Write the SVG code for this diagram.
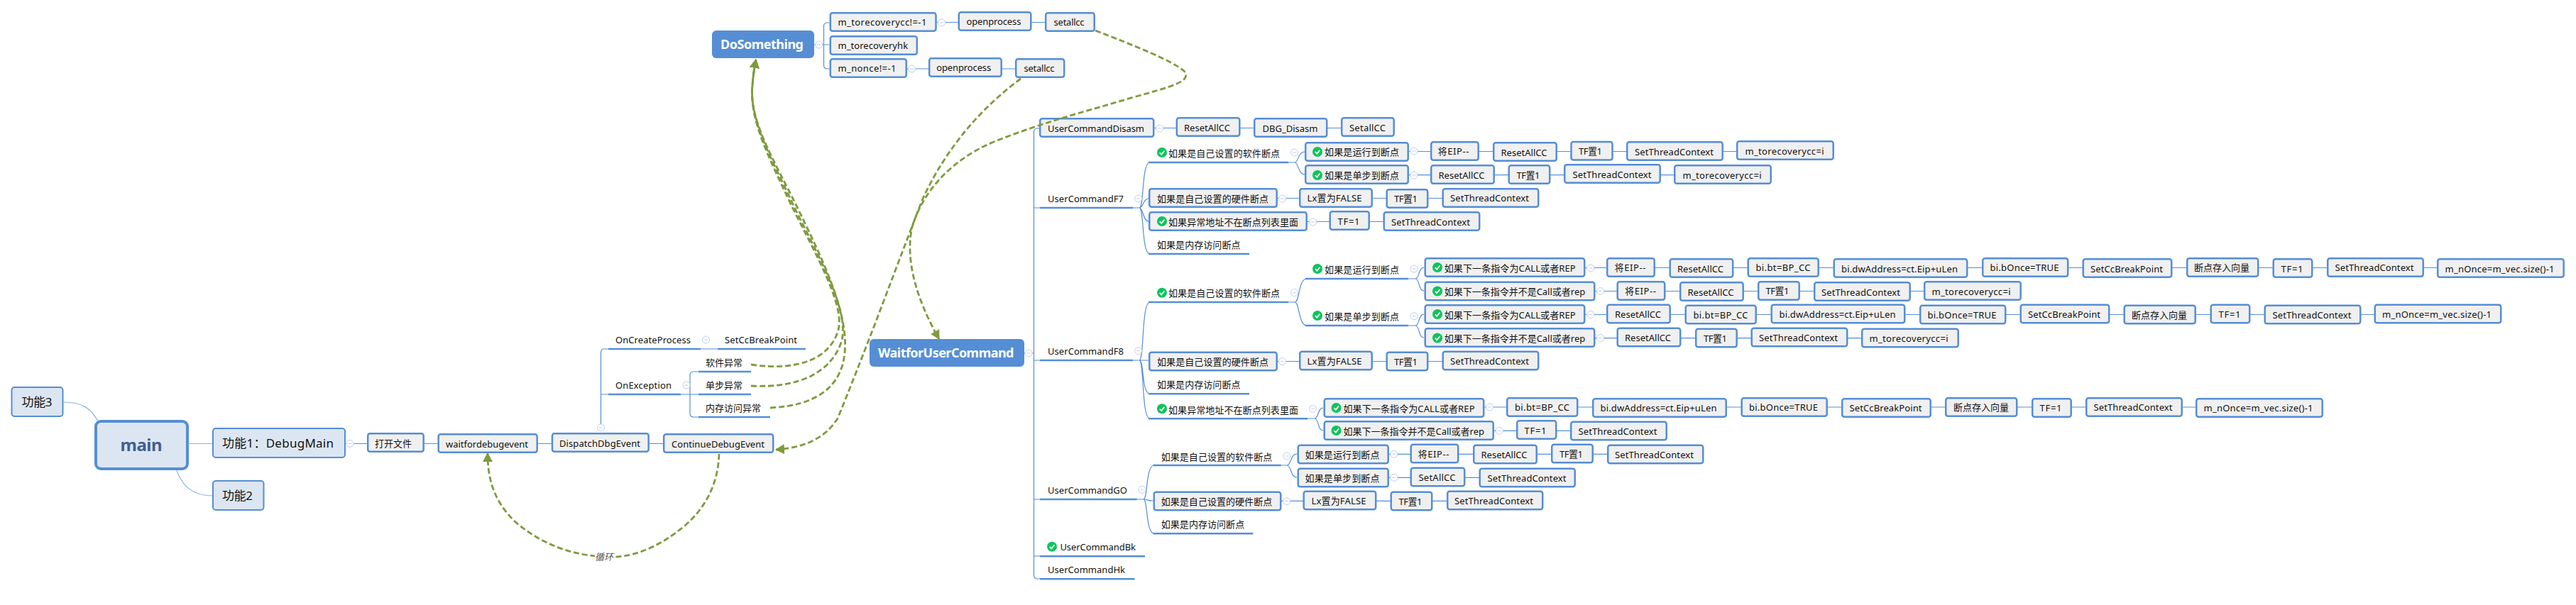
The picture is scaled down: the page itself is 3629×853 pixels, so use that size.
<svg xmlns="http://www.w3.org/2000/svg" width="3629" height="853" viewBox="0 0 3629 853">
<style>
text{font-family:"Noto Sans","Noto Sans CJK SC",sans-serif;font-size:13px;fill:#111}
.b{fill:#f0f0f0;stroke:#558ed5;stroke-width:2.5}
.f{fill:#dce6f2;stroke:#558ed5;stroke-width:2}
.h{fill:#558ed5}
.u{stroke:#558ed5;stroke-width:2.6;fill:none}
.l{stroke:#558ed5;stroke-width:1.2;fill:none}
.m{stroke:#8db0e3;stroke-width:1.2;fill:none}
.r{stroke:#7f9a3f;stroke-width:2.8;fill:none;stroke-dasharray:8 4;marker-end:url(#ah)}
.c{fill:#fff;stroke:#c0cdf0;stroke-width:1}
.w{fill:#fff;font-weight:700;font-size:18px}
</style>
<defs>
<marker id="ah" markerUnits="userSpaceOnUse" markerWidth="14" markerHeight="14" refX="12" refY="7" orient="auto"><path d="M0 0L13 7L0 14Z" fill="#7f9a3f"/></marker>
<g id="ck"><circle r="7" fill="#0bc55b"/><path d="M-3.2 0.2L-0.8 2.8L3.4-2.4" fill="none" stroke="#fff" stroke-width="1.8"/></g>
<g id="cp"><circle class="c" r="5"/><path d="M-2.5 0H2.5" stroke="#c0cdf0" fill="none"/></g>
</defs>
<g id="connectors">
<path class="m" d="M89.5 567C115 567 128 575 138 594"/>
<path class="m" d="M248.5 662C256 685 272 699 299 699"/>
<path class="m" d="M265 625.5H299" stroke-width="2"/>
<path class="l" d="M487 625.5H934"/>
<path class="l" d="M846.5 598V497Q846.5 492 851 492H857M846.5 556H857"/>
<path class="l" d="M987 492H1011M959 556H984M972 556V529Q972 524 977 524H984M972 556V583Q972 588 977 588H984"/>
<path class="l" d="M1147 63H1168.5M1160.5 63V37Q1160.5 32 1165.5 32H1168.5M1160.5 63V92Q1160.5 97 1165.5 97H1168.5"/>
<path class="l" d="M1319.5 31.5H1543M1278 97H1500"/>
<path class="l" d="M1443 498H1456.5M1465 181H1461.5Q1456.5 181 1456.5 186V811Q1456.5 816 1461.5 816H1465M1456.5 293H1465M1456.5 508H1465M1456.5 704H1465M1456.5 784H1465"/>
<path class="l" d="M1626 180.5H1965"/>
<path class="l" d="M1596 293H1605C1612 293 1608 229 1620 229M1605 293C1611 293 1610 280 1618 280M1605 293C1611 293 1610 312 1618 312M1605 293C1612 293 1608 358 1620 358"/>
<path class="l" d="M1815 229H1824C1829 229 1829 214 1838 214M1824 229C1829 229 1829 246 1838 246"/>
<path class="l" d="M1985 213.5H2584M1985 246.7H2496M1800 279.5H2168M1842 312.5H2084"/>
<path class="l" d="M1596 508H1605C1612 508 1608 426 1620 426M1605 508H1618M1605 508C1612 508 1608 555 1620 555M1605 508C1612 508 1608 590 1620 590"/>
<path class="l" d="M1815 426H1824C1831 426 1829 393 1841 393M1824 426C1831 426 1829 459 1841 459"/>
<path class="l" d="M1984 393H1994C2000 393 1998 377 2006 377M1994 393C2000 393 1998 410 2006 410M1984 459H1994C2000 459 1998 443 2006 443M1994 459C2000 459 1998 476 2006 476"/>
<path class="l" d="M2233 377.5H3612M2247 410.5H2846M2233 443.5H3524M2247 476.7H2758M1800 509.5H2168"/>
<path class="l" d="M1842 590H1852C1858 590 1856 575 1864 575M1852 590C1858 590 1856 607 1864 607"/>
<path class="l" d="M2091 574H3273M2105 607.3H2347"/>
<path class="l" d="M1601 704H1611C1617 704 1614 656 1626 656M1611 704C1616 704 1616 706 1624 706M1611 704C1617 704 1614 752 1626 752"/>
<path class="l" d="M1804 656H1813C1819 656 1818 640 1827 640M1813 656C1819 656 1818 673 1827 673"/>
<path class="l" d="M1957 640.3H2399M1957 673.3H2219M1805 706.3H2173"/>
</g>
<g id="nodes">
<g id="n-f3"><rect class="f" x="16.5" y="546" width="72" height="41" rx="4"/><text x="30.5" y="573" textLength="43" style="font-size:17px">功能3</text></g>
<g id="n-main"><rect x="135" y="594" width="129" height="67" rx="7" fill="#dce6f2" stroke="#558ed5" stroke-width="4"/><text x="169.5" y="636" textLength="59" style="font-size:24px;font-weight:700;fill:#3f5f8f">main</text></g>
<g id="n-f1"><rect class="f" x="300" y="604" width="186" height="41" rx="4"/><text x="313" y="631" textLength="157" style="font-size:17px">功能1：DebugMain</text></g>
<g id="n-f2"><rect class="f" x="300" y="678" width="71.5" height="41" rx="4"/><text x="313" y="705" textLength="43" style="font-size:17px">功能2</text></g>
<g id="n-open"><rect class="b" x="518.2" y="611.2" width="78.5" height="25.5" rx="3"/><text x="528" y="629.5" textLength="52">打开文件</text></g>
<g id="n-wait"><rect class="b" x="617.7" y="612.2" width="139" height="25.5" rx="3"/><text x="628" y="630.5" textLength="116">waitfordebugevent</text></g>
<g id="n-disp"><rect class="b" x="778" y="611.2" width="135.7" height="25.5" rx="3"/><text x="788" y="629.5" textLength="114">DispatchDbgEvent</text></g>
<g id="n-cont"><rect class="b" x="935.2" y="612.2" width="154" height="25.5" rx="3"/><text x="946" y="630.5" textLength="131">ContinueDebugEvent</text></g>
<g id="n-ocp"><path class="u" d="M857 492H987"/><text x="867" y="484" textLength="106">OnCreateProcess</text></g>
<g id="n-scb"><path class="u" d="M1011 492H1135"/><text x="1021" y="484" textLength="102">SetCcBreakPoint</text></g>
<g id="n-oe"><path class="u" d="M857 556H959"/><text x="867" y="548" textLength="79">OnException</text></g>
<g id="n-sw"><path class="u" d="M984 524H1058"/><text x="994" y="516" textLength="52">软件异常</text></g>
<g id="n-ss"><path class="u" d="M984 556H1058"/><text x="994" y="548" textLength="52">单步异常</text></g>
<g id="n-mm"><path class="u" d="M984 588H1085"/><text x="994" y="580" textLength="78">内存访问异常</text></g>

<g id="n-do"><rect class="h" x="1003" y="43" width="144" height="39" rx="6"/><text class="w" x="1015" y="69" textLength="117">DoSomething</text></g>
<g id="n-a1"><rect class="b" x="1169.8" y="18.2" width="148.7" height="25.5" rx="3"/><text x="1180.4" y="35.5" textLength="125">m_torecoverycc!=-1</text></g>
<g id="n-a2"><rect class="b" x="1169.8" y="51.2" width="122" height="25.5" rx="3"/><text x="1180.4" y="68.5" textLength="98.7">m_torecoveryhk</text></g>
<g id="n-a3"><rect class="b" x="1169.8" y="83.2" width="107" height="25.5" rx="3"/><text x="1180.4" y="100.5" textLength="82">m_nonce!=-1</text></g>
<g id="n-a4"><rect class="b" x="1350.8" y="17.2" width="101.5" height="25.5" rx="3"/><text x="1361.4" y="34.5" textLength="77">openprocess</text></g>
<g id="n-a5"><rect class="b" x="1473.2" y="18.2" width="68.5" height="25.5" rx="3"/><text x="1484.6" y="35.5" textLength="43">setallcc</text></g>
<g id="n-a6"><rect class="b" x="1309.2" y="82.2" width="101.5" height="25.5" rx="3"/><text x="1319.2" y="99.5" textLength="77">openprocess</text></g>
<g id="n-a7"><rect class="b" x="1431.2" y="83.2" width="68" height="25.5" rx="3"/><text x="1442.5" y="100.5" textLength="43">setallcc</text></g>

<g id="n-wuc"><rect class="h" x="1225" y="478" width="218" height="39" rx="6"/><text class="w" x="1237" y="504" textLength="191.5">WaitforUserCommand</text></g>

<g id="n-dis"><rect class="b" x="1465.2" y="167.2" width="160" height="25.5" rx="3"/><text x="1476" y="185.5" textLength="136">UserCommandDisasm</text></g>
<g id="n-d1"><rect class="b" x="1657.8" y="166.2" width="88.5" height="25.5" rx="3"/><text x="1668" y="184.5" textLength="65">ResetAllCC</text></g>
<g id="n-d2"><rect class="b" x="1767.2" y="167.2" width="102" height="25.5" rx="3"/><text x="1778.5" y="185.5" textLength="78">DBG_Disasm</text></g>
<g id="n-d3"><rect class="b" x="1890.2" y="166.2" width="73.5" height="25.5" rx="3"/><text x="1901" y="184.5" textLength="51">SetallCC</text></g>

<g id="n-f7"><path class="u" d="M1465 293H1596"/><text x="1476" y="285" textLength="107">UserCommandF7</text></g>
<g id="n-f7a"><path class="u" d="M1618 229H1815"/><use href="#ck" x="1637" y="215"/><text x="1646" y="221" textLength="157">如果是自己设置的软件断点</text></g>
<g id="n-f7a1"><rect class="b" x="1839.2" y="201.2" width="144.5" height="25.5" rx="3"/><use href="#ck" x="1856" y="214"/><text x="1866" y="219" textLength="105">如果是运行到断点</text></g>
<g id="n-f7a1a"><rect class="b" x="2016.2" y="200.2" width="66.5" height="25.5" rx="3"/><text x="2025.5" y="218" textLength="44">将EIP--</text></g>
<g id="n-f7a1b"><rect class="b" x="2104.2" y="201.2" width="88.5" height="25.5" rx="3"/><text x="2114.5" y="219.5" textLength="65">ResetAllCC</text></g>
<g id="n-f7a1c"><rect class="b" x="2213.5" y="200" width="58" height="25.5" rx="3"/><text x="2224" y="218" textLength="33">TF置1</text></g>
<g id="n-f7a1d"><rect class="b" x="2292.2" y="200.2" width="134.5" height="25.5" rx="3"/><text x="2303" y="218.5" textLength="111">SetThreadContext</text></g>
<g id="n-f7a1e"><rect class="b" x="2447.2" y="199.2" width="135.5" height="25.5" rx="3"/><text x="2458.5" y="218" textLength="111">m_torecoverycc=i</text></g>
<g id="n-f7a2"><rect class="b" x="1839.2" y="233.2" width="144.5" height="25.5" rx="3"/><use href="#ck" x="1856" y="247"/><text x="1866" y="251.5" textLength="105">如果是单步到断点</text></g>
<g id="n-f7a2a"><rect class="b" x="2016.2" y="233.2" width="88.5" height="25.5" rx="3"/><text x="2026.5" y="251.5" textLength="65">ResetAllCC</text></g>
<g id="n-f7a2b"><rect class="b" x="2125.7" y="233.2" width="57.5" height="25.5" rx="3"/><text x="2136.5" y="251.5" textLength="33">TF置1</text></g>
<g id="n-f7a2c"><rect class="b" x="2204.2" y="232.2" width="134.5" height="25.5" rx="3"/><text x="2215.5" y="250.5" textLength="111">SetThreadContext</text></g>
<g id="n-f7a2d"><rect class="b" x="2359.2" y="233.2" width="135.5" height="25.5" rx="3"/><text x="2370.5" y="251.5" textLength="111">m_torecoverycc=i</text></g>
<g id="n-f7b"><rect class="b" x="1619.2" y="266.2" width="179.5" height="25.5" rx="3"/><text x="1630" y="284.5" textLength="157">如果是自己设置的硬件断点</text></g>
<g id="n-f7b1"><rect class="b" x="1831.2" y="266.2" width="101.5" height="25.5" rx="3"/><text x="1841.5" y="284" textLength="77">Lx置为FALSE</text></g>
<g id="n-f7b2"><rect class="b" x="1953.7" y="267.2" width="57.5" height="25.5" rx="3"/><text x="1964" y="285" textLength="33">TF置1</text></g>
<g id="n-f7b3"><rect class="b" x="2032.7" y="266.2" width="134.5" height="25.5" rx="3"/><text x="2043" y="284" textLength="111">SetThreadContext</text></g>
<g id="n-f7c"><rect class="b" x="1619.2" y="299.2" width="221.5" height="25.5" rx="3"/><use href="#ck" x="1637" y="312"/><text x="1646" y="317.5" textLength="183">如果异常地址不在断点列表里面</text></g>
<g id="n-f7c1"><rect class="b" x="1873.7" y="298.2" width="55" height="25.5" rx="3"/><text x="1884.5" y="316.5" textLength="31">TF=1</text></g>
<g id="n-f7c2"><rect class="b" x="1949.7" y="299.2" width="134.5" height="25.5" rx="3"/><text x="1960" y="317.5" textLength="111">SetThreadContext</text></g>
<g id="n-f7d"><path class="u" d="M1618 358H1760"/><text x="1630" y="350" textLength="117.5">如果是内存访问断点</text></g>

<g id="n-f8"><path class="u" d="M1465 508H1596"/><text x="1476" y="499.5" textLength="107">UserCommandF8</text></g>
<g id="n-f8a"><path class="u" d="M1618 426H1815"/><use href="#ck" x="1637" y="412.7"/><text x="1646" y="418" textLength="157">如果是自己设置的软件断点</text></g>
<g id="n-f8a1"><path class="u" d="M1839 393H1984"/><use href="#ck" x="1856" y="379"/><text x="1866" y="385" textLength="105">如果是运行到断点</text></g>
<g id="n-f8a2"><path class="u" d="M1839 459H1984"/><use href="#ck" x="1856" y="445"/><text x="1866" y="451" textLength="105">如果是单步到断点</text></g>

<g id="n-r1"><rect class="b" x="2007.7" y="364.2" width="224.5" height="25.5" rx="3"/><use href="#ck" x="2025" y="377"/><text x="2034.7" y="382.5" textLength="185">如果下一条指令为CALL或者REP</text></g>
<g id="n-r1a"><rect class="b" x="2264.2" y="364.2" width="66.5" height="25.5" rx="3"/><text x="2274.5" y="382" textLength="44">将EIP--</text></g>
<g id="n-r1b"><rect class="b" x="2352.7" y="365.2" width="88.5" height="25.5" rx="3"/><text x="2363" y="383.5" textLength="65">ResetAllCC</text></g>
<g id="n-r1c"><rect class="b" x="2462.7" y="364.2" width="99" height="25.5" rx="3"/><text x="2473.5" y="382" textLength="77">bi.bt=BP_CC</text></g>
<g id="n-r1d"><rect class="b" x="2583.7" y="365.2" width="187.5" height="25.5" rx="3"/><text x="2594" y="383.5" textLength="164">bi.dwAddress=ct.Eip+uLen</text></g>
<g id="n-r1e"><rect class="b" x="2793.2" y="364.2" width="120" height="25.5" rx="3"/><text x="2803.5" y="382" textLength="97">bi.bOnce=TRUE</text></g>
<g id="n-r1f"><rect class="b" x="2934.7" y="365.2" width="124.5" height="25.5" rx="3"/><text x="2945" y="383.5" textLength="102">SetCcBreakPoint</text></g>
<g id="n-r1g"><rect class="b" x="3081.2" y="364.2" width="100" height="25.5" rx="3"/><text x="3091" y="382" textLength="78">断点存入向量</text></g>
<g id="n-r1h"><rect class="b" x="3202.7" y="365.2" width="54.5" height="25.5" rx="3"/><text x="3213.5" y="383.5" textLength="31">TF=1</text></g>
<g id="n-r1i"><rect class="b" x="3279.2" y="364.2" width="134.5" height="25.5" rx="3"/><text x="3289.5" y="382" textLength="111">SetThreadContext</text></g>
<g id="n-r1j"><rect class="b" x="3434.2" y="365.2" width="177.5" height="25.5" rx="3"/><text x="3444.5" y="383.5" textLength="154">m_nOnce=m_vec.size()-1</text></g>

<g id="n-r2"><rect class="b" x="2007.7" y="397.7" width="238.5" height="25.5" rx="3"/><use href="#ck" x="2025" y="410.5"/><text x="2034.7" y="416" textLength="198.5">如果下一条指令并不是Call或者rep</text></g>
<g id="n-r2a"><rect class="b" x="2278.7" y="397.2" width="66.5" height="25.5" rx="3"/><text x="2289" y="415" textLength="44">将EIP--</text></g>
<g id="n-r2b"><rect class="b" x="2367.2" y="398.2" width="88.5" height="25.5" rx="3"/><text x="2377.5" y="416.5" textLength="65">ResetAllCC</text></g>
<g id="n-r2c"><rect class="b" x="2477.2" y="397.2" width="57.5" height="25.5" rx="3"/><text x="2487.5" y="415" textLength="33">TF置1</text></g>
<g id="n-r2d"><rect class="b" x="2556.2" y="398.2" width="134.5" height="25.5" rx="3"/><text x="2566" y="416.5" textLength="111">SetThreadContext</text></g>
<g id="n-r2e"><rect class="b" x="2711.2" y="397.2" width="135.5" height="25.5" rx="3"/><text x="2721.5" y="415.5" textLength="111">m_torecoverycc=i</text></g>

<g id="n-r3"><rect class="b" x="2007.7" y="430.2" width="224.5" height="25.5" rx="3"/><use href="#ck" x="2025" y="443"/><text x="2034.7" y="448.5" textLength="185">如果下一条指令为CALL或者REP</text></g>
<g id="n-r3a"><rect class="b" x="2264.2" y="429.7" width="88.5" height="25.5" rx="3"/><text x="2275" y="448" textLength="65">ResetAllCC</text></g>
<g id="n-r3b"><rect class="b" x="2374.7" y="430.7" width="99" height="25.5" rx="3"/><text x="2385.5" y="449" textLength="77">bi.bt=BP_CC</text></g>
<g id="n-r3c"><rect class="b" x="2495.7" y="429.7" width="187.5" height="25.5" rx="3"/><text x="2506.5" y="448" textLength="164">bi.dwAddress=ct.Eip+uLen</text></g>
<g id="n-r3d"><rect class="b" x="2705.2" y="430.7" width="120" height="25.5" rx="3"/><text x="2715.5" y="449" textLength="97">bi.bOnce=TRUE</text></g>
<g id="n-r3e"><rect class="b" x="2846.7" y="429.7" width="124.5" height="25.5" rx="3"/><text x="2857" y="448" textLength="102">SetCcBreakPoint</text></g>
<g id="n-r3f"><rect class="b" x="2992.7" y="430.7" width="100" height="25.5" rx="3"/><text x="3003" y="449" textLength="78">断点存入向量</text></g>
<g id="n-r3g"><rect class="b" x="3114.7" y="429.7" width="54.5" height="25.5" rx="3"/><text x="3125.5" y="448" textLength="31">TF=1</text></g>
<g id="n-r3h"><rect class="b" x="3190.7" y="430.7" width="134.5" height="25.5" rx="3"/><text x="3201.5" y="449" textLength="111">SetThreadContext</text></g>
<g id="n-r3i"><rect class="b" x="3345.7" y="429.7" width="177.5" height="25.5" rx="3"/><text x="3356" y="448" textLength="154">m_nOnce=m_vec.size()-1</text></g>

<g id="n-r4"><rect class="b" x="2007.7" y="463.2" width="238.5" height="25.5" rx="3"/><use href="#ck" x="2025" y="476.5"/><text x="2034.7" y="482" textLength="198.5">如果下一条指令并不是Call或者rep</text></g>
<g id="n-r4a"><rect class="b" x="2278.7" y="462.7" width="88.5" height="25.5" rx="3"/><text x="2289" y="481" textLength="65">ResetAllCC</text></g>
<g id="n-r4b"><rect class="b" x="2389.2" y="463.7" width="57.5" height="25.5" rx="3"/><text x="2400" y="482" textLength="33">TF置1</text></g>
<g id="n-r4c"><rect class="b" x="2467.7" y="462.7" width="134.5" height="25.5" rx="3"/><text x="2478" y="481" textLength="111">SetThreadContext</text></g>
<g id="n-r4d"><rect class="b" x="2623.2" y="463.7" width="135.5" height="25.5" rx="3"/><text x="2633.5" y="482" textLength="111">m_torecoverycc=i</text></g>

<g id="n-f8b"><rect class="b" x="1619.2" y="496.7" width="179.5" height="25.5" rx="3"/><text x="1630" y="515" textLength="157">如果是自己设置的硬件断点</text></g>
<g id="n-f8b1"><rect class="b" x="1831.2" y="495.7" width="101.5" height="25.5" rx="3"/><text x="1841.5" y="514" textLength="77">Lx置为FALSE</text></g>
<g id="n-f8b2"><rect class="b" x="1953.7" y="496.7" width="57.5" height="25.5" rx="3"/><text x="1964" y="515" textLength="33">TF置1</text></g>
<g id="n-f8b3"><rect class="b" x="2032.7" y="495.7" width="134.5" height="25.5" rx="3"/><text x="2043" y="514" textLength="111">SetThreadContext</text></g>
<g id="n-f8c"><path class="u" d="M1618 555.3H1760"/><text x="1630" y="547" textLength="117.5">如果是内存访问断点</text></g>
<g id="n-f8d"><path class="u" d="M1618 590.3H1842"/><use href="#ck" x="1637" y="576.3"/><text x="1646" y="582.5" textLength="183">如果异常地址不在断点列表里面</text></g>
<g id="n-e1"><rect class="b" x="1865.7" y="562.2" width="224.5" height="25.5" rx="3"/><use href="#ck" x="1882.5" y="575"/><text x="1892.5" y="580.5" textLength="185">如果下一条指令为CALL或者REP</text></g>
<g id="n-e1a"><rect class="b" x="2123.2" y="561.2" width="99" height="25.5" rx="3"/><text x="2134" y="579" textLength="77">bi.bt=BP_CC</text></g>
<g id="n-e1b"><rect class="b" x="2244.2" y="562.2" width="187.5" height="25.5" rx="3"/><text x="2254.5" y="580" textLength="164">bi.dwAddress=ct.Eip+uLen</text></g>
<g id="n-e1c"><rect class="b" x="2453.7" y="561.2" width="120" height="25.5" rx="3"/><text x="2464" y="579" textLength="97">bi.bOnce=TRUE</text></g>
<g id="n-e1d"><rect class="b" x="2595.2" y="562.2" width="124.5" height="25.5" rx="3"/><text x="2605.5" y="580" textLength="102">SetCcBreakPoint</text></g>
<g id="n-e1e"><rect class="b" x="2741.2" y="561.2" width="100" height="25.5" rx="3"/><text x="2752" y="579" textLength="78">断点存入向量</text></g>
<g id="n-e1f"><rect class="b" x="2863.2" y="562.2" width="54.5" height="25.5" rx="3"/><text x="2873.5" y="580" textLength="31">TF=1</text></g>
<g id="n-e1g"><rect class="b" x="2939.2" y="561.2" width="134.5" height="25.5" rx="3"/><text x="2949.5" y="579" textLength="111">SetThreadContext</text></g>
<g id="n-e1h"><rect class="b" x="3094.2" y="562.2" width="177.5" height="25.5" rx="3"/><text x="3104.5" y="580" textLength="154">m_nOnce=m_vec.size()-1</text></g>
<g id="n-e2"><rect class="b" x="1865.7" y="594.2" width="238" height="25.5" rx="3"/><use href="#ck" x="1882.5" y="607"/><text x="1892.5" y="613" textLength="198.5">如果下一条指令并不是Call或者rep</text></g>
<g id="n-e2a"><rect class="b" x="2137.2" y="593.2" width="55" height="25.5" rx="3"/><text x="2147.5" y="611.5" textLength="31">TF=1</text></g>
<g id="n-e2b"><rect class="b" x="2213.2" y="594.7" width="134.5" height="25.5" rx="3"/><text x="2223.5" y="613" textLength="111">SetThreadContext</text></g>

<g id="n-go"><path class="u" d="M1465 704H1601.5"/><text x="1476" y="695.5" textLength="112">UserCommandGO</text></g>
<g id="n-goa"><path class="u" d="M1624.5 656H1804.5"/><text x="1635.7" y="648.5" textLength="156.5">如果是自己设置的软件断点</text></g>
<g id="n-goa1"><rect class="b" x="1828.7" y="627.7" width="127" height="25.5" rx="3"/><text x="1838.5" y="646" textLength="105">如果是运行到断点</text></g>
<g id="n-goa1a"><rect class="b" x="1987.7" y="626.7" width="66.5" height="25.5" rx="3"/><text x="1997.5" y="644.5" textLength="44">将EIP--</text></g>
<g id="n-goa1b"><rect class="b" x="2076.2" y="627.7" width="88.5" height="25.5" rx="3"/><text x="2086.5" y="646" textLength="65">ResetAllCC</text></g>
<g id="n-goa1c"><rect class="b" x="2186.2" y="626.7" width="57.5" height="25.5" rx="3"/><text x="2197" y="644.5" textLength="33">TF置1</text></g>
<g id="n-goa1d"><rect class="b" x="2265.2" y="627.7" width="134" height="25.5" rx="3"/><text x="2275" y="646" textLength="111">SetThreadContext</text></g>
<g id="n-goa2"><rect class="b" x="1828.7" y="660.7" width="127" height="25.5" rx="3"/><text x="1838.5" y="679" textLength="105">如果是单步到断点</text></g>
<g id="n-goa2a"><rect class="b" x="1987.7" y="659.7" width="75.5" height="25.5" rx="3"/><text x="1998.5" y="678" textLength="52">SetAllCC</text></g>
<g id="n-goa2b"><rect class="b" x="2084.7" y="660.7" width="134" height="25.5" rx="3"/><text x="2095.5" y="679" textLength="111">SetThreadContext</text></g>
<g id="n-gob"><rect class="b" x="1625.7" y="693.7" width="178.5" height="25.5" rx="3"/><text x="1635.7" y="712" textLength="156.5">如果是自己设置的硬件断点</text></g>
<g id="n-gob1"><rect class="b" x="1836.7" y="692.7" width="101.5" height="25.5" rx="3"/><text x="1847.5" y="711" textLength="77">Lx置为FALSE</text></g>
<g id="n-gob2"><rect class="b" x="1959.7" y="693.7" width="57.5" height="25.5" rx="3"/><text x="1970.5" y="712" textLength="33">TF置1</text></g>
<g id="n-gob3"><rect class="b" x="2039.2" y="692.7" width="134" height="25.5" rx="3"/><text x="2049" y="711" textLength="111">SetThreadContext</text></g>
<g id="n-goc"><path class="u" d="M1624.5 752.3H1765.3"/><text x="1635.7" y="744" textLength="117.5">如果是内存访问断点</text></g>
<g id="n-bk"><path class="u" d="M1465 784.3H1613"/><use href="#ck" x="1482" y="770.7"/><text x="1493.4" y="776" textLength="106.6">UserCommandBk</text></g>
<g id="n-hk"><path class="u" d="M1465 816.3H1598.5"/><text x="1476" y="808" textLength="109">UserCommandHk</text></g>
</g>
<g id="collapse">
<use href="#cp" x="493" y="625.5"/><use href="#cp" x="846.5" y="603"/><use href="#cp" x="994.6" y="479"/><use href="#cp" x="967" y="543"/>
<use href="#cp" x="1153.6" y="63"/><use href="#cp" x="1326.5" y="32"/><use href="#cp" x="1284.5" y="97"/><use href="#cp" x="1449" y="498"/>
<use href="#cp" x="1633.7" y="181"/><use href="#cp" x="1603.6" y="280"/><use href="#cp" x="1823.5" y="215"/><use href="#cp" x="1992" y="213"/><use href="#cp" x="1992" y="247"/><use href="#cp" x="1806.6" y="280"/><use href="#cp" x="1849.5" y="313"/>
<use href="#cp" x="1603.6" y="494.7"/><use href="#cp" x="1823.5" y="412.7"/><use href="#cp" x="1992" y="379"/><use href="#cp" x="1992" y="445.7"/>
<use href="#cp" x="2240.8" y="378"/><use href="#cp" x="2254.6" y="410.5"/><use href="#cp" x="2240.8" y="443.5"/><use href="#cp" x="2254.6" y="476.5"/><use href="#cp" x="1806.6" y="509.7"/>
<use href="#cp" x="1849.5" y="576.3"/><use href="#cp" x="2098.5" y="574"/><use href="#cp" x="2112.3" y="607.3"/>
<use href="#cp" x="1609" y="690.3"/><use href="#cp" x="1812.8" y="643"/><use href="#cp" x="1963.8" y="640.3"/><use href="#cp" x="1963.8" y="673.3"/><use href="#cp" x="1812.8" y="706.7"/>
</g>
<g id="relations">
<path class="r" d="M1058 514C1125 524 1170 505 1181 465C1190 430 1150 360 1115 290C1085 225 1055 170 1060 120C1061 105 1063 95 1065 84"/>
<path class="r" d="M1058 544C1125 548 1172 525 1186 480C1196 435 1152 360 1118 290C1088 225 1055 170 1060 120C1061 105 1063 95 1065 84"/>
<path class="r" d="M1085 575C1150 572 1186 545 1190 497C1196 440 1156 360 1122 290C1090 225 1055 170 1060 120C1061 105 1063 95 1065 84"/>
<path class="r" d="M1438 111C1385 150 1335 205 1300 280C1265 370 1225 480 1180 590C1160 622 1125 632 1093 634"/>
<path class="r" d="M1543 43C1600 65 1650 85 1668 100C1680 115 1650 122 1597 137C1530 157 1470 172 1400 200C1340 225 1300 270 1285 320C1275 365 1290 420 1323 478"/>
<path class="r" d="M1013 640C1012 680 995 715 966 740C925 775 885 788 850 785C800 782 760 765 725 735C695 705 687 675 687 639"/>
</g>
<g id="rel-label"><rect x="838" y="777" width="26" height="16" fill="#fff"/><text x="838" y="790" textLength="26" style="font-style:italic;fill:#555">循环</text></g>
</svg>
